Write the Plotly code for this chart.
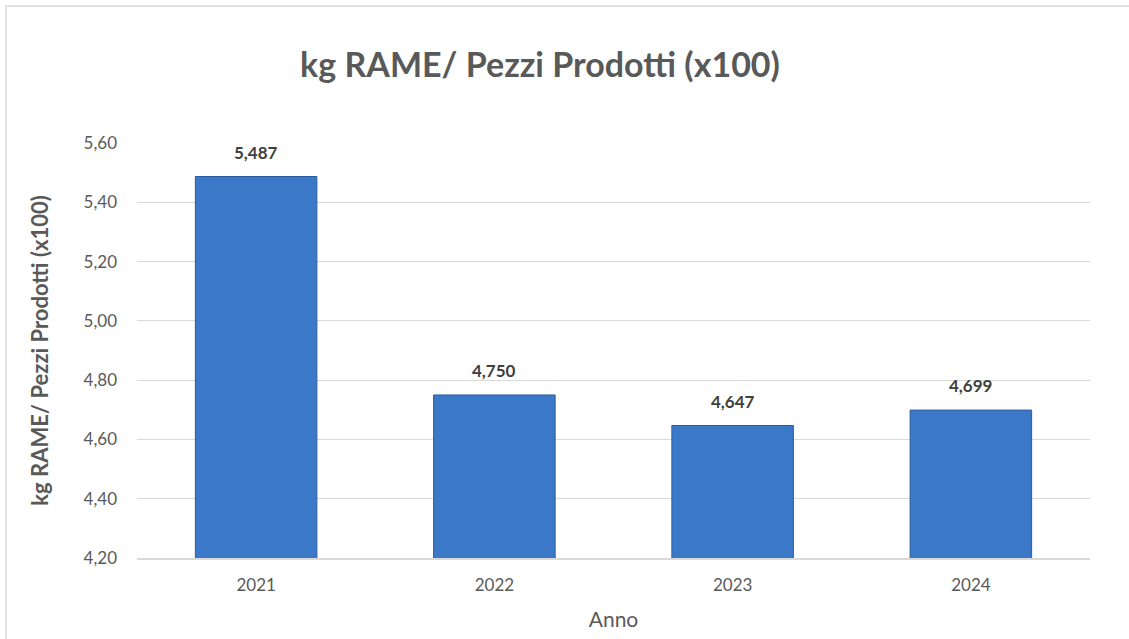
import plotly.graph_objects as go

anni = ["2021", "2022", "2023", "2024"]
valori = [5.487, 4.750, 4.647, 4.699]
y_ticks = [4.20, 4.40, 4.60, 4.80, 5.00, 5.20, 5.40, 5.60]

W, H = 1129, 639
L, R, T, B = 137, 39, 143, 81
pw, ph = W - L - R, H - T - B

FONT = "Lato, 'Open Sans', sans-serif"
GRAY = "#595959"

fig = go.Figure()
fig.add_trace(go.Bar(
    x=anni, y=valori,
    width=0.51,
    marker=dict(color="#3b78c8", line=dict(color="#2a5c9e", width=1)),
    hoverinfo="skip",
))

annotations = [
    dict(x=i, y=v, xref="x", yref="y", text=f"<b>{v:.3f}</b>".replace(".", ","),
         showarrow=False, yanchor="bottom", yshift=12,
         font=dict(family=FONT, size=17, color="#404040"))
    for i, v in enumerate(valori)
]

fig.update_layout(
    width=W, height=H,
    margin=dict(l=L, r=R, t=T, b=B),
    paper_bgcolor="white", plot_bgcolor="white",
    separators=",.",
    showlegend=False,
    title=dict(text="<b>kg RAME/ Pezzi Prodotti (x100)</b>", x=540 / W, xanchor="center",
               y=1 - 65 / H, yanchor="middle",
               font=dict(family=FONT, size=34, color=GRAY)),
    xaxis=dict(
        type="category",
        range=[-0.5, len(anni) - 0.5],
        title=dict(text="Anno", font=dict(family=FONT, size=21, color=GRAY), standoff=18),
        tickfont=dict(family=FONT, size=17, color=GRAY),
        showline=True, linecolor="#d9d9d9", linewidth=1.5,
        ticks="", ticklabelstandoff=11,
    ),
    yaxis=dict(
        title=dict(text="<b>kg RAME/ Pezzi Prodotti (x100)</b>",
                   font=dict(family=FONT, size=22, color=GRAY), standoff=28),
        range=[4.20, 5.60],
        tickvals=y_ticks,
        tickformat=".2f",
        tickfont=dict(family=FONT, size=17, color=GRAY),
        showgrid=True, gridcolor="#d9d9d9", gridwidth=1,
        zeroline=False, ticks="", ticklabelstandoff=19,
    ),
    annotations=annotations,
    shapes=[dict(
        type="rect", xref="paper", yref="paper",
        x0=(6 - L) / pw, x1=1.3,
        y0=-0.5, y1=1 + (T - 6) / ph,
        line=dict(color="#d9d9d9", width=1.5), fillcolor="rgba(0,0,0,0)",
        layer="below",
    )],
)

fig.write_html("out.html", config={"displayModeBar": False},
               post_script="document.body.style.margin='0';document.body.style.overflow='hidden';")
